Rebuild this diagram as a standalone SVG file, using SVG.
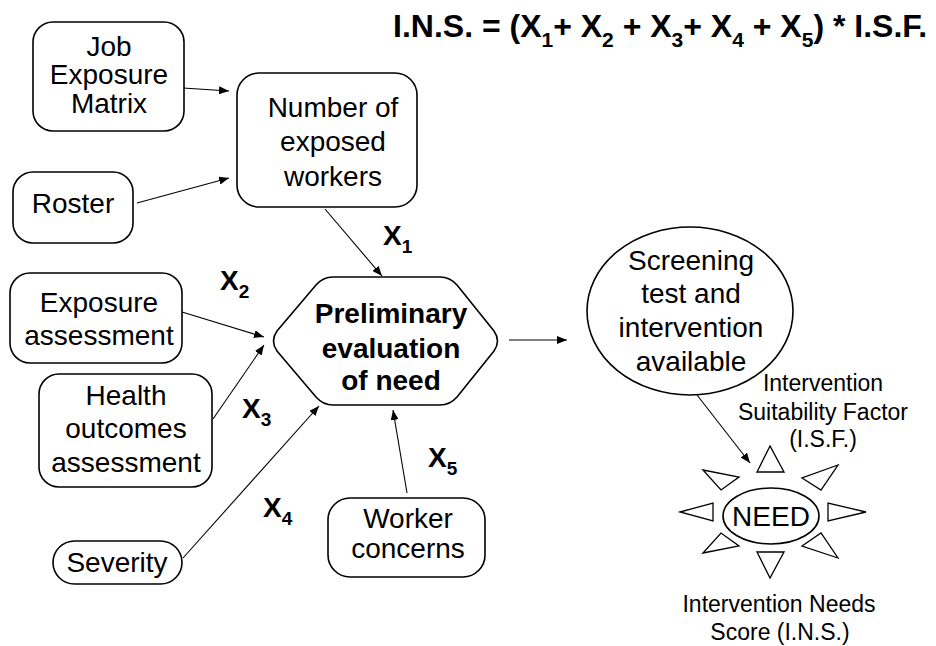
<svg xmlns="http://www.w3.org/2000/svg" width="936" height="646" viewBox="0 0 936 646">
<style>
.box{fill:#fff;stroke:#000;stroke-width:1.6}
.t{font-family:"Liberation Sans",Arial,sans-serif;font-size:28px;fill:#000;text-anchor:middle}
.b{font-family:"Liberation Sans",Arial,sans-serif;font-weight:bold;fill:#000}
.s{font-family:"Liberation Sans",Arial,sans-serif;font-size:23px;fill:#000;text-anchor:middle}
.c{fill:none;stroke:#000;stroke-width:1.1;marker-end:url(#ah)}
.tri{fill:#fff;stroke:#000;stroke-width:1.3;stroke-linejoin:miter}
</style>
<defs>
<marker id="ah" viewBox="0 0 10 8" refX="10" refY="4" markerWidth="10" markerHeight="8" markerUnits="userSpaceOnUse" orient="auto">
<path d="M0,0 L10,4 L0,8 Z" fill="#000"/>
</marker>
</defs>
<rect width="936" height="646" fill="#fff"/>

<g id="formula">
<text class="b" font-size="32" x="393" y="37">I.N.S. = (X<tspan font-size="21" dy="10">1</tspan><tspan dy="-10">+ X</tspan><tspan font-size="21" dy="10">2</tspan><tspan dy="-10"> + X</tspan><tspan font-size="21" dy="10">3</tspan><tspan dy="-10">+ X</tspan><tspan font-size="21" dy="10">4</tspan><tspan dy="-10"> + X</tspan><tspan font-size="21" dy="10">5</tspan><tspan dy="-10">) * I.S.F.</tspan></text>
</g>

<g id="connectors">
<line class="c" x1="183" y1="88" x2="229" y2="91"/>
<line class="c" x1="137" y1="203" x2="229" y2="178"/>
<line class="c" x1="325" y1="209" x2="382" y2="276"/>
<line class="c" x1="182" y1="312" x2="264" y2="337"/>
<line class="c" x1="213" y1="419" x2="264" y2="345"/>
<line class="c" x1="183" y1="558" x2="319" y2="406"/>
<line class="c" x1="407" y1="493" x2="393" y2="410"/>
<line class="c" x1="509" y1="340" x2="567" y2="340"/>
<line class="c" x1="697" y1="395" x2="750" y2="463"/>
</g>

<g id="labels">
<text class="b" font-size="28" x="383" y="245">X<tspan font-size="19" dy="8">1</tspan></text>
<text class="b" font-size="28" x="220" y="290">X<tspan font-size="19" dy="8">2</tspan></text>
<text class="b" font-size="28" x="242" y="418">X<tspan font-size="19" dy="8">3</tspan></text>
<text class="b" font-size="28" x="263" y="517">X<tspan font-size="19" dy="8">4</tspan></text>
<text class="b" font-size="28" x="428" y="467">X<tspan font-size="19" dy="8">5</tspan></text>
</g>

<g id="jem">
<rect class="box" x="33" y="22" width="151" height="109" rx="20"/>
<text class="t" x="109" y="56" font-size="27">Job</text>
<text class="t" x="109" y="84" font-size="27">Exposure</text>
<text class="t" x="109" y="113" font-size="27">Matrix</text>
</g>

<g id="roster">
<rect class="box" x="13" y="172" width="120" height="71" rx="20"/>
<text class="t" x="73" y="213">Roster</text>
</g>

<g id="number">
<rect class="box" x="237" y="73" width="180" height="134" rx="22"/>
<text class="t" x="333" y="117">Number of</text>
<text class="t" x="333" y="151">exposed</text>
<text class="t" x="333" y="186">workers</text>
</g>

<g id="exposure">
<rect class="box" x="10" y="273" width="172" height="90" rx="20"/>
<text class="t" x="99" y="312">Exposure</text>
<text class="t" x="99" y="345">assessment</text>
</g>

<g id="health">
<rect class="box" x="39" y="374" width="173" height="113" rx="20"/>
<text class="t" x="126" y="405">Health</text>
<text class="t" x="126" y="438">outcomes</text>
<text class="t" x="126" y="472">assessment</text>
</g>

<g id="severity">
<rect class="box" x="53" y="541" width="129" height="43" rx="21.5"/>
<text class="t" x="117" y="572">Severity</text>
</g>

<g id="worker">
<rect class="box" x="328" y="498" width="157" height="79" rx="22"/>
<text class="t" x="408" y="528">Worker</text>
<text class="t" x="408" y="558">concerns</text>
</g>

<g id="prelim">
<path class="box" d="M333,277 L440,277 Q450,277 457,285 L494,331 Q501,341 494,351 L457,397 Q450,405 440,405 L333,405 Q323,405 316,397 L277,351 Q270,341 277,331 L316,285 Q323,277 333,277 Z"/>
<text class="b t" x="391" y="323">Preliminary</text>
<text class="b t" x="391" y="358">evaluation</text>
<text class="b t" x="391" y="390">of need</text>
</g>

<g id="screening">
<ellipse class="box" cx="690" cy="311" rx="103" ry="84"/>
<text class="t" x="691" y="270">Screening</text>
<text class="t" x="691" y="303">test and</text>
<text class="t" x="691" y="337">intervention</text>
<text class="t" x="691" y="371">available</text>
</g>

<g id="isf">
<text class="s" x="823" y="391">Intervention</text>
<text class="s" x="823" y="420">Suitability Factor</text>
<text class="s" x="823" y="447">(I.S.F.)</text>
</g>

<g id="need">
<polygon class="tri" points="770,446 757,472 784,472"/>
<polygon class="tri" points="770,578 757,552 784,552"/>
<polygon class="tri" points="680,512 713,503 713,521"/>
<polygon class="tri" points="866,512 828,503 828,521"/>
<polygon class="tri" points="703,470 739,477 721,490"/>
<polygon class="tri" points="703,553 739,546 721,533"/>
<polygon class="tri" points="838,465 802,478 821,490"/>
<polygon class="tri" points="838,558 802,546 821,533"/>
<ellipse class="box" cx="771" cy="516" rx="48" ry="28"/>
<text class="t" x="771" y="526" font-size="27">NEED</text>
</g>

<g id="ins">
<text class="s" x="779" y="612">Intervention Needs</text>
<text class="s" x="780" y="640">Score (I.N.S.)</text>
</g>
</svg>
